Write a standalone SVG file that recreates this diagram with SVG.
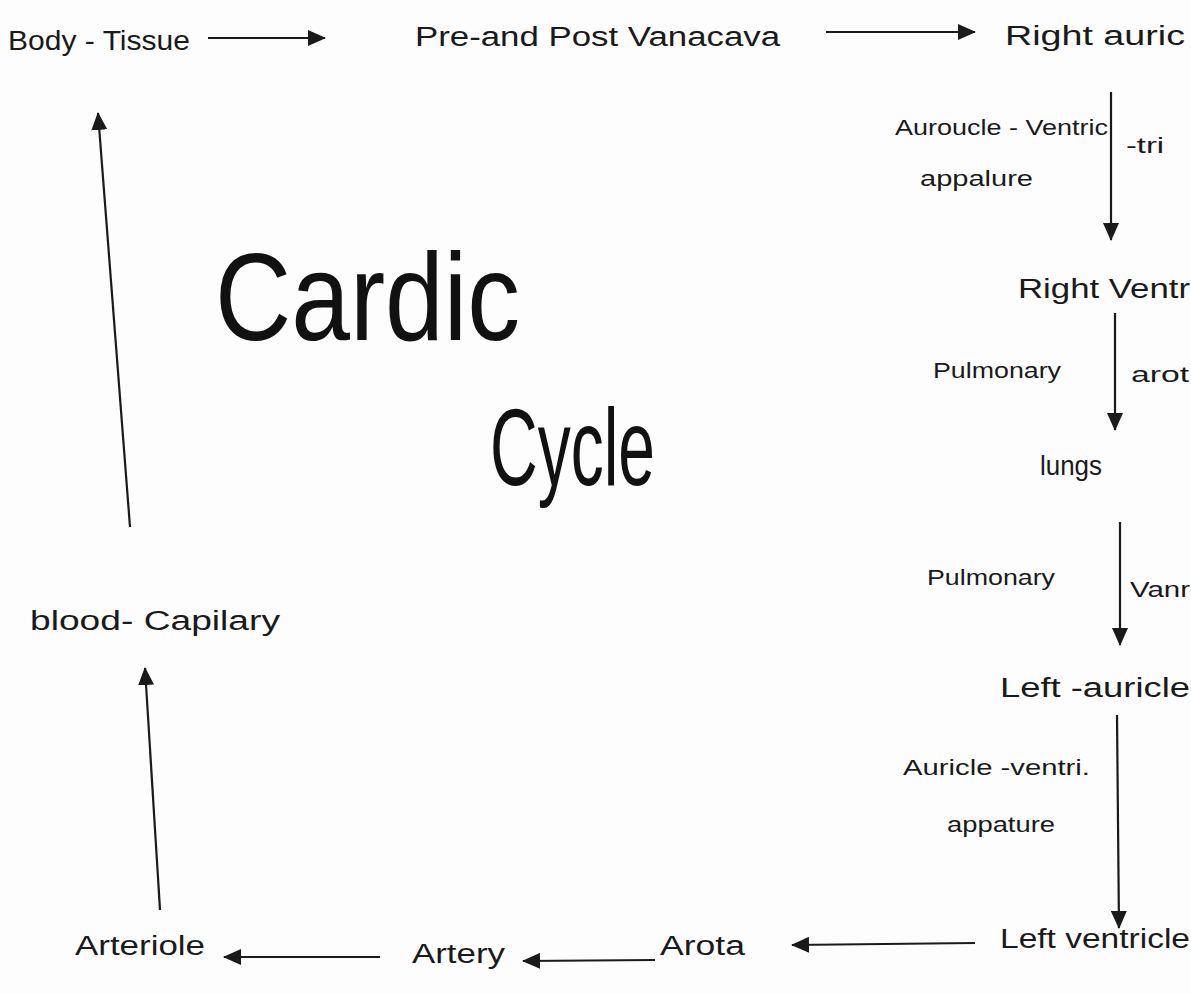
<svg xmlns="http://www.w3.org/2000/svg" width="1191" height="994" viewBox="0 0 1191 994">
<style>
.lbl{font-family:"Liberation Sans",Arial,sans-serif;font-size:27px;fill:#1a1a1a}
.sm{font-family:"Liberation Sans",Arial,sans-serif;font-size:22px;fill:#1a1a1a}
.title{font-family:"Liberation Sans",Arial,sans-serif;fill:#111}
.conn{stroke:#1a1a1a;stroke-width:2.2;fill:none;marker-end:url(#ah)}
</style>
<defs>
<marker id="ah" markerUnits="userSpaceOnUse" markerWidth="18" markerHeight="16" refX="17" refY="8" orient="auto">
<path d="M0,0 L18,8 L0,16 z" fill="#1a1a1a"/>
</marker>
</defs>
<rect width="1191" height="994" fill="#fdfdfd"/>
<g id="connectors">
<path class="conn" d="M208,38 L325,38"/>
<path class="conn" d="M826,32 L975,32"/>
<path class="conn" d="M1111,92 L1111,240"/>
<path class="conn" d="M1115,313 L1115,430"/>
<path class="conn" d="M1120,522 L1120,645"/>
<path class="conn" d="M1117,715 L1119,928"/>
<path class="conn" d="M975,943 L792,945"/>
<path class="conn" d="M655,960 L523,961"/>
<path class="conn" d="M380,957 L224,957"/>
<path class="conn" d="M160,910 L145,668"/>
<path class="conn" d="M130,527 L98,113"/>
</g>
<g id="body-tissue"><text class="lbl" x="8" y="50" textLength="182" lengthAdjust="spacingAndGlyphs">Body - Tissue</text></g>
<g id="vanacava"><text class="lbl" x="415" y="46" textLength="365" lengthAdjust="spacingAndGlyphs">Pre-and Post Vanacava</text></g>
<g id="right-auricle"><text class="lbl" x="1005" y="45" textLength="180" lengthAdjust="spacingAndGlyphs">Right auric</text></g>
<g id="label-av1">
<text class="sm" x="895" y="135" textLength="213" lengthAdjust="spacingAndGlyphs">Auroucle - Ventric</text>
<text class="sm" x="1126" y="153" textLength="38" lengthAdjust="spacingAndGlyphs">-tri</text>
<text class="sm" x="920" y="186" textLength="113" lengthAdjust="spacingAndGlyphs">appalure</text>
</g>
<g id="right-ventricle"><text class="lbl" x="1018" y="298" textLength="172" lengthAdjust="spacingAndGlyphs">Right Ventr</text></g>
<g id="label-pa">
<text class="sm" x="933" y="378" textLength="128" lengthAdjust="spacingAndGlyphs">Pulmonary</text>
<text class="sm" x="1131" y="382" textLength="58" lengthAdjust="spacingAndGlyphs">arot</text>
</g>
<g id="lungs"><text class="lbl" x="1040" y="475" textLength="62" lengthAdjust="spacingAndGlyphs">lungs</text></g>
<g id="label-pv">
<text class="sm" x="927" y="585" textLength="128" lengthAdjust="spacingAndGlyphs">Pulmonary</text>
<text class="sm" x="1130" y="597" textLength="60" lengthAdjust="spacingAndGlyphs">Vanr</text>
</g>
<g id="left-auricle"><text class="lbl" x="1000" y="697" textLength="190" lengthAdjust="spacingAndGlyphs">Left -auricle</text></g>
<g id="label-av2">
<text class="sm" x="903" y="775" textLength="187" lengthAdjust="spacingAndGlyphs">Auricle -ventri.</text>
<text class="sm" x="947" y="832" textLength="108" lengthAdjust="spacingAndGlyphs">appature</text>
</g>
<g id="left-ventricle"><text class="lbl" x="1000" y="948" textLength="190" lengthAdjust="spacingAndGlyphs">Left ventricle</text></g>
<g id="arota"><text class="lbl" x="660" y="955" textLength="85" lengthAdjust="spacingAndGlyphs">Arota</text></g>
<g id="artery"><text class="lbl" x="412" y="963" textLength="93" lengthAdjust="spacingAndGlyphs">Artery</text></g>
<g id="arteriole"><text class="lbl" x="75" y="955" textLength="130" lengthAdjust="spacingAndGlyphs">Arteriole</text></g>
<g id="blood-capilary"><text class="lbl" x="30" y="630" textLength="250" lengthAdjust="spacingAndGlyphs">blood- Capilary</text></g>
<g id="title">
<text class="title" x="215" y="340" font-size="125" textLength="305" lengthAdjust="spacingAndGlyphs">Cardic</text>
<text class="title" x="490" y="485" font-size="110" textLength="165" lengthAdjust="spacingAndGlyphs">Cycle</text>
</g>
</svg>
